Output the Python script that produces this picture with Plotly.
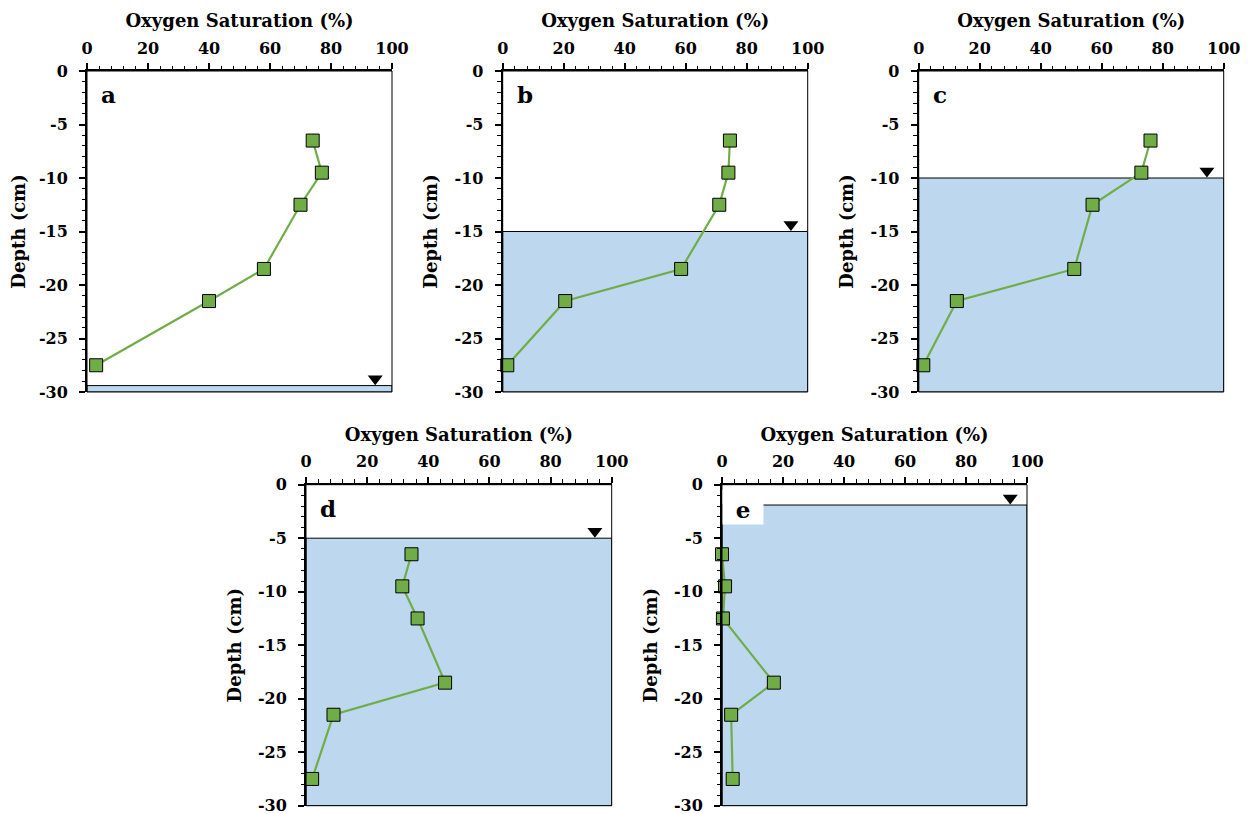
import plotly.graph_objects as go

# ---- data ----
depths = [-6.5, -9.5, -12.5, -18.5, -21.5, -27.5]
sat_a = [74, 77, 70, 58, 40, 3]
sat_b = [74.5, 74, 71, 58.5, 20.5, 1.5]
sat_c = [76, 73, 57, 51, 12.5, 1.5]
sat_d = [34.5, 31.5, 36.5, 45.5, 9, 2]
sat_e = [0, 1, 0.3, 17, 3, 3.5]
water_levels = [-29.4, -15, -10, -5, -1.9]
water_marker_x = [94.5, 94.5, 94.5, 94.5, 94.5]
panel_labels = ["a", "b", "c", "d", "e"]
x_ticks = [0, 20, 40, 60, 80, 100]
y_ticks = [0, -5, -10, -15, -20, -25, -30]
y_ticktext = ["0", "-5", "-10", "-15", "-20", "-25", "-30"]

series = [sat_a, sat_b, sat_c, sat_d, sat_e]

OFF = 8  # default page body margin
W, H = 1248 - OFF, 814 - OFF
# panel pixel boxes in page coords (x0, x1, ytop, ybottom)
boxes = [
    (87, 392, 71, 392),
    (502.7, 807.7, 71, 392),
    (918.7, 1223.7, 71, 392),
    (306, 611.7, 484.7, 805.7),
    (722, 1027, 484.7, 805.7),
]

FONT = "DejaVu Serif"
GREEN = "#70AD47"
WATER = "#BDD7EE"

fig = go.Figure()
layout = dict(
    width=W, height=H, margin=dict(l=0, r=0, t=0, b=0),
    paper_bgcolor="white", plot_bgcolor="white", showlegend=False,
    font=dict(family=FONT, color="black"),
)
shapes = []
annotations = []

for i, (vals, lvl, mx, lab) in enumerate(zip(series, water_levels, water_marker_x, panel_labels)):
    n = i + 1
    xa = "x" if n == 1 else f"x{n}"
    ya = "y" if n == 1 else f"y{n}"
    x0, x1, yt, yb = [v - OFF for v in boxes[i]]
    layout[f"xaxis{'' if n == 1 else n}"] = dict(
        domain=[x0 / W, x1 / W], anchor=ya, side="top", range=[0, 100],
        tickvals=x_ticks, ticks="outside", ticklen=6, tickwidth=1.5, tickcolor="black",
        minor=dict(dtick=4, ticks="outside", ticklen=3.5, tickwidth=1, tickcolor="black"),
        showgrid=False, zeroline=False, showline=True, linecolor="black", linewidth=2,
        tickfont=dict(family=FONT, size=16, weight="bold"), ticklabelstandoff=3,
        ticklabeloverflow="allow",
        title=dict(text="Oxygen Saturation (%)", font=dict(family=FONT, size=18, weight="bold"), standoff=6),
        automargin=False, fixedrange=True,
    )
    layout[f"yaxis{'' if n == 1 else n}"] = dict(
        domain=[1 - yb / H, 1 - yt / H], anchor=xa, range=[-30, 0],
        tickvals=y_ticks, ticktext=y_ticktext, ticks="outside", ticklen=6, tickwidth=1.5, tickcolor="black",
        minor=dict(dtick=1, ticks="outside", ticklen=3.5, tickwidth=1, tickcolor="black"),
        showgrid=False, zeroline=False, showline=True, linecolor="black", linewidth=2,
        tickfont=dict(family=FONT, size=16, weight="bold"), ticklabelstandoff=8,
        ticklabeloverflow="allow",
        title=dict(text="Depth (cm)", font=dict(family=FONT, size=18, weight="bold"), standoff=12),
        automargin=False, fixedrange=True,
    )
    # water body
    shapes.append(dict(type="rect", xref=xa, yref=ya, x0=0, x1=100, y0=-30, y1=lvl,
                       fillcolor=WATER, line=dict(color="black", width=1), layer="below"))
    # frame right/bottom
    shapes.append(dict(type="rect", xref=f"{xa} domain", yref=f"{ya} domain", x0=0, x1=1, y0=0, y1=1,
                       line=dict(color="black", width=1), layer="above"))
    # data line
    fig.add_trace(go.Scatter(
        x=vals, y=depths, xaxis=xa, yaxis=ya, mode="lines+markers",
        line=dict(color=GREEN, width=2.2),
        marker=dict(symbol="square", size=13, color=GREEN, line=dict(color="black", width=1)),
        cliponaxis=False,
    ))
    # water table marker
    fig.add_trace(go.Scatter(
        x=[mx], y=[lvl + 0.65], xaxis=xa, yaxis=ya, mode="markers",
        marker=dict(symbol="triangle-down", size=13, color="black"),
    ))
    ann = dict(text=f"<b>{lab}</b>", xref=xa, yref=ya, x=0, y=-2.2, xanchor="left", yanchor="middle",
               xshift=12, showarrow=False, font=dict(family=FONT, size=23, color="black"))
    if lab == "e":
        ann.update(dict(y=-3.75, yanchor="bottom", xshift=0, width=38, height=32,
                        bgcolor="white", align="center", valign="bottom"))
    annotations.append(ann)

layout["shapes"] = shapes
layout["annotations"] = annotations
fig.update_layout(**layout)
fig.write_html("out.html")
